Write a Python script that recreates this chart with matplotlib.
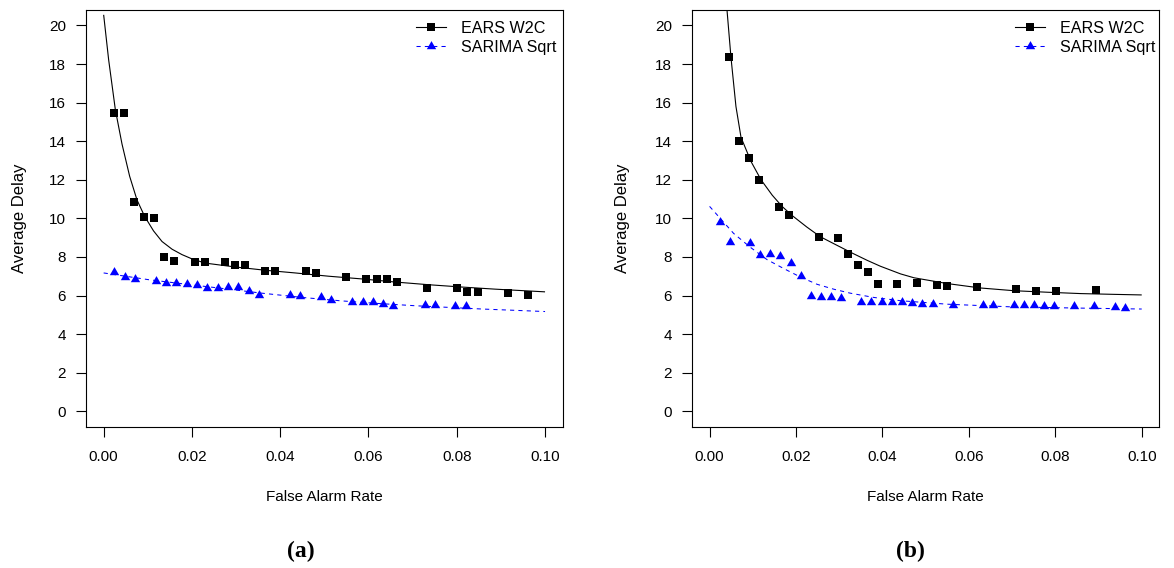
import matplotlib
matplotlib.use("Agg")
import matplotlib.pyplot as plt
from matplotlib.lines import Line2D

# ---------------- data: panel (a) ----------------
a_ears_x = [0.00235, 0.00461, 0.00695, 0.00921, 0.01148, 0.01374, 0.01593, 0.02076,
            0.02295, 0.02748, 0.02974, 0.03201, 0.03661, 0.03888, 0.04589, 0.04808,
            0.05488, 0.05948, 0.06197, 0.06423, 0.06650, 0.07329, 0.08001, 0.08227,
            0.08476, 0.09155, 0.09608]
a_ears_y = [15.48, 15.48, 10.87, 10.09, 10.04, 7.98, 7.77, 7.72,
            7.72, 7.74, 7.60, 7.60, 7.29, 7.26, 7.26, 7.15,
            6.94, 6.88, 6.84, 6.84, 6.72, 6.37, 6.37, 6.17,
            6.17, 6.12, 6.01]
a_sarima_x = [0.00235, 0.00476, 0.00710, 0.01178, 0.01412, 0.01646, 0.01880, 0.02114,
              0.02348, 0.02582, 0.02816, 0.03050, 0.03284, 0.03518, 0.04220, 0.04454,
              0.04922, 0.05155, 0.05631, 0.05865, 0.06099, 0.06325, 0.06559, 0.07269,
              0.07503, 0.07971, 0.08205]
a_sarima_y = [7.20, 6.96, 6.86, 6.77, 6.67, 6.67, 6.62, 6.56,
              6.37, 6.37, 6.43, 6.43, 6.22, 6.03, 6.01, 5.98,
              5.93, 5.77, 5.67, 5.67, 5.67, 5.56, 5.48, 5.51,
              5.51, 5.46, 5.46]
# fitted trend curves
a_ears_fit_x = [0.0, 0.00113, 0.00265, 0.00416, 0.00589, 0.00756, 0.00929, 0.0113,
                0.01322, 0.0155, 0.01775, 0.0200, 0.0230, 0.0298, 0.0366, 0.0434,
                0.0510, 0.0585, 0.0660, 0.0736, 0.0811, 0.0887, 0.1000]
a_ears_fit_y = [20.55, 18.22, 15.63, 13.85, 12.18, 10.95, 10.10, 9.35,
                8.80, 8.40, 8.12, 7.90, 7.68, 7.48, 7.31, 7.17,
                7.00, 6.86, 6.70, 6.56, 6.44, 6.33, 6.19]
a_sarima_fit_x = [0.0, 0.0102, 0.0200, 0.0283, 0.0359, 0.0450, 0.0540, 0.0620, 0.0706,
                  0.0857, 0.1000]
a_sarima_fit_y = [7.17, 6.82, 6.55, 6.33, 6.12, 5.90, 5.72, 5.59, 5.47,
                  5.30, 5.17]

# ---------------- data: panel (b) ----------------
b_ears_x = [0.00449, 0.00680, 0.00912, 0.01136, 0.01607, 0.01839, 0.02526, 0.02974,
            0.03197, 0.03429, 0.03669, 0.03900, 0.04348, 0.04804, 0.05259, 0.05483,
            0.06186, 0.07097, 0.07552, 0.08016, 0.08935]
b_ears_y = [18.34, 14.03, 13.15, 12.01, 10.61, 10.19, 9.05, 9.00,
            8.17, 7.60, 7.20, 6.62, 6.58, 6.63, 6.53, 6.47,
            6.42, 6.36, 6.26, 6.26, 6.31]
b_sarima_x = [0.00232, 0.00464, 0.00935, 0.01174, 0.01406, 0.01638, 0.01877, 0.02109,
              0.02348, 0.02580, 0.02811, 0.03043, 0.03514, 0.03746, 0.03985, 0.04217,
              0.04456, 0.04688, 0.04919, 0.05159, 0.05630, 0.06332, 0.06564, 0.07035,
              0.07267, 0.07498, 0.07738, 0.07969, 0.08433, 0.08904, 0.09374, 0.09606]
b_sarima_y = [9.79, 8.76, 8.71, 8.12, 8.17, 8.03, 7.70, 7.03,
              5.99, 5.91, 5.91, 5.89, 5.65, 5.65, 5.65, 5.65,
              5.65, 5.62, 5.56, 5.56, 5.51, 5.51, 5.51, 5.51,
              5.51, 5.51, 5.46, 5.46, 5.46, 5.46, 5.41, 5.36]
b_ears_fit_x = [0.00403, 0.00495, 0.00610, 0.00727, 0.00958, 0.0119, 0.0145, 0.01677,
                0.01908, 0.0225, 0.0256, 0.0295, 0.0330, 0.0365, 0.0395, 0.0442,
                0.0473, 0.0550, 0.0627, 0.0704, 0.0782, 0.0859, 0.0936, 0.1000]
b_ears_fit_y = [20.80, 18.34, 15.80, 14.20, 12.95, 12.00, 11.20, 10.62,
                10.15, 9.55, 9.05, 8.60, 8.20, 7.82, 7.52, 7.12,
                6.92, 6.62, 6.39, 6.25, 6.17, 6.10, 6.06, 6.03]
b_sarima_fit_x = [0.0, 0.00556, 0.00943, 0.0133, 0.01714, 0.0210, 0.0249, 0.0287,
                  0.0326, 0.0380, 0.0442, 0.0550, 0.0700, 0.0850, 0.1000]
b_sarima_fit_y = [10.62, 9.22, 8.50, 7.86, 7.40, 6.96, 6.58, 6.33,
                  6.12, 5.90, 5.73, 5.55, 5.41, 5.35, 5.30]

# ---------------- labels ----------------
series_labels = ["EARS W2C", "SARIMA Sqrt"]
panel_captions = ["(a)", "(b)"]
x_label = "False Alarm Rate"
y_label = "Average Delay"
x_ticks = [0.00, 0.02, 0.04, 0.06, 0.08, 0.10]
x_tick_labels = ["0.00", "0.02", "0.04", "0.06", "0.08", "0.10"]
y_ticks = [0, 2, 4, 6, 8, 10, 12, 14, 16, 18, 20]
y_tick_labels = [str(v) for v in y_ticks]

plt.rcParams["font.family"] = ["Liberation Sans", "DejaVu Sans"]

W, H = 1174, 568
fig = plt.figure(figsize=(W / 100, H / 100), dpi=100)

tri = [(-1.0, -0.57735), (1.0, -0.57735), (0.0, 1.1547)]
BLUE = "#0000FF"

panels = [
    dict(box=(86, 10, 562.7, 426.7), ylab_x=-0.1385, cap_x=301,
         ex=a_ears_x, ey=a_ears_y, sx=a_sarima_x, sy=a_sarima_y,
         efx=a_ears_fit_x, efy=a_ears_fit_y, sfx=a_sarima_fit_x, sfy=a_sarima_fit_y),
    dict(box=(692.3, 10, 1159, 426.7), ylab_x=-0.1485, cap_x=910,
         ex=b_ears_x, ey=b_ears_y, sx=b_sarima_x, sy=b_sarima_y,
         efx=b_ears_fit_x, efy=b_ears_fit_y, sfx=b_sarima_fit_x, sfy=b_sarima_fit_y),
]

for i, p in enumerate(panels):
    l, t, r, b = p["box"]
    ax = fig.add_axes([l / W, 1 - b / H, (r - l) / W, (b - t) / H])
    ax.plot(p["efx"], p["efy"], color="black", lw=0.8, solid_capstyle="butt")
    ax.plot(p["sfx"], p["sfy"], color=BLUE, lw=0.75, dashes=(4, 4))
    ax.plot(p["ex"], p["ey"], ls="none", marker="s", ms=5.8, color="black",
            mec="black", mew=0)
    ax.plot(p["sx"], p["sy"], ls="none", marker=tri, ms=7.8, color=BLUE,
            mec=BLUE, mew=0)
    ax.set_xlim(-0.004, 0.104)
    ax.set_ylim(-0.8, 20.8)
    ax.set_xticks(x_ticks)
    ax.set_xticklabels(x_tick_labels)
    ax.set_yticks(y_ticks)
    ax.set_yticklabels(y_tick_labels)
    ax.tick_params(axis="both", direction="out", length=7, width=0.8,
                   labelsize=11, colors="black")
    ax.tick_params(axis="x", pad=9.5)
    ax.tick_params(axis="y", pad=7.5)
    for s in ax.spines.values():
        s.set_linewidth(0.8)
        s.set_color("black")
    ax.text(0.5, (426.7 - 497) / (b - t), x_label, transform=ax.transAxes,
            ha="center", va="center", fontsize=11)
    ax.text(p["ylab_x"], 0.5, y_label, transform=ax.transAxes, rotation=90,
            ha="center", va="center", fontsize=12)

    handles = [
        Line2D([], [], color="black", lw=0.8, marker="s", ms=5.8, mew=0),
        Line2D([], [], color=BLUE, lw=0.75, dashes=(4, 4), marker=tri, ms=7.8, mew=0),
    ]
    ax.legend(handles, series_labels, loc="upper left",
              bbox_to_anchor=(0.692, 0.974), frameon=False, fontsize=11.6,
              handlelength=1.85, handletextpad=0.95, labelspacing=0.25,
              borderpad=0, borderaxespad=0, numpoints=1)

    fig.text(p["cap_x"] / W, 1 - 551 / H, panel_captions[i], ha="center", va="center",
             fontsize=17, fontweight="bold", family=["Liberation Serif", "DejaVu Serif"])

fig.savefig("out.png", dpi=100)
